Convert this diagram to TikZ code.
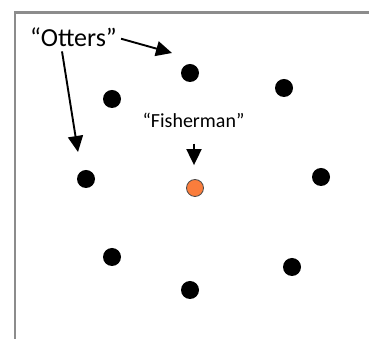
\documentclass[tikz,border=0pt]{standalone}
\usepackage{fontspec}
\setmainfont{Carlito}
\usepackage{tikz}
\usetikzlibrary{arrows.meta}
\definecolor{FishOrange}{RGB}{250,125,60}
\definecolor{FrameGrey}{RGB}{140,140,140}
\begin{document}
\begin{tikzpicture}[x=1pt,y=1pt,
    otter/.style={circle,fill=black,inner sep=0pt,minimum size=18pt},
    pointer/.style={line width=1.9pt,-{Triangle[length=16pt,width=15pt]}}]
        \useasboundingbox (0,0) rectangle (369,339);
        % frame (only top and left edge show)
        \draw[FrameGrey,line width=2.5pt] (15,0) -- (15,326.5) -- (375,326.5);
        % Otters
        \node[otter] (o1) at (190,266) {};
        \node[otter] (o2) at (284,251) {};
        \node[otter] (o3) at (112,240) {};
        \node[otter] (o4) at (86,160) {};
        \node[otter] (o5) at (321,162) {};
        \node[otter] (o6) at (112,82) {};
        \node[otter] (o7) at (292,72) {};
        \node[otter] (o8) at (190,49) {};
        % Fisherman
        \node[circle,fill=FishOrange,draw=black!70,line width=0.8pt,inner sep=0pt,minimum size=17pt]
            (fish) at (195,151) {};
        % labels
        \node[anchor=base,font=\fontsize{26}{30}\selectfont,inner sep=2pt] (otters) at (73.5,292) {“Otters”};
        \node[anchor=base,font=\fontsize{20}{24}\selectfont] (fisher) at (193.5,211) {“Fisherman”};
        % pointers
        \coordinate (tipA) at (172,286);
        \coordinate (tipB) at (78,187);
        \draw[pointer] ([xshift=2pt,yshift=-1pt]otters.east) -- (tipA);
        \draw[pointer] ([xshift=-11.5pt,yshift=-2pt]otters.south) -- (tipB);
        \draw[pointer] ([xshift=0.5pt,yshift=-12pt]fisher.south) -- ([xshift=-1pt,yshift=14pt]fish.north);
\end{tikzpicture}
\end{document}
